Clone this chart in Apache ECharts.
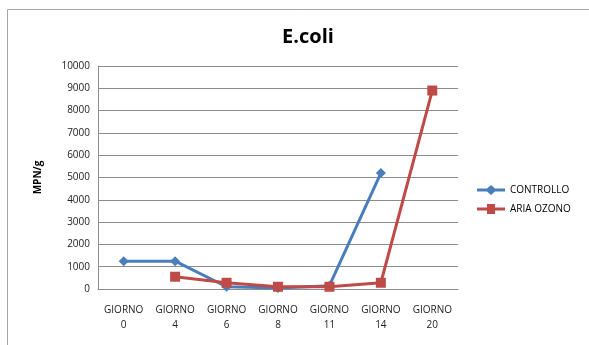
<!DOCTYPE html>
<html><head><meta charset="utf-8">
<script src="https://cdn.jsdelivr.net/npm/echarts@6/dist/echarts.min.js"></script>
<style>html,body{margin:0;padding:0;background:#fff}#c{width:589px;height:345px}</style>
</head><body><div id="c"></div>
<script>
const categories = ["GIORNO\n0","GIORNO\n4","GIORNO\n6","GIORNO\n8","GIORNO\n11","GIORNO\n14","GIORNO\n20"];
const controllo = [1250, 1250, 100, 50, 150, 5200, null];
const ariaOzono = [null, 550, 280, 100, 100, 280, 8900];
const yTicks = [0,1000,2000,3000,4000,5000,6000,7000,8000,9000,10000];

const chart = echarts.init(document.getElementById('c'));
chart.setOption({
  animation: false,
  graphic: [{type:'rect', shape:{x:7.5,y:9.5,width:590,height:345}, style:{fill:'none', stroke:'#a6a6a6', lineWidth:1}}],
  title: {text:'E.coli', left:303, top:22, textAlign:'center', textStyle:{fontFamily:'Open Sans', fontSize:20, fontWeight:'bold', color:'#000'}},
  grid: {left:98, top:66, width:360, height:223, containLabel:false},
  legend: {orient:'vertical', left:472, top:180, itemGap:9, itemWidth:28, itemHeight:10,
    textStyle:{fontFamily:'Open Sans', fontSize:10, color:'#000'},
    data:[{name:'CONTROLLO', icon:'path://M0,3.5 L10,3.5 L14,0 L18,3.5 L28,3.5 L28,6.5 L18,6.5 L14,10 L10,6.5 L0,6.5 Z'},
          {name:'ARIA OZONO', icon:'path://M0,3.5 L10,3.5 L10,0 L18,0 L18,3.5 L28,3.5 L28,6.5 L18,6.5 L18,10 L10,10 L10,6.5 L0,6.5 Z'}]},
  xAxis: {type:'category', data:categories, boundaryGap:true,
    axisLine:{lineStyle:{color:'#8c8c8c'}}, axisTick:{show:false},
    axisLabel:{fontFamily:'Open Sans', fontSize:10, color:'#222', margin:14, lineHeight:15}},
  yAxis: {type:'value', min:yTicks[0], max:yTicks[yTicks.length-1], interval:1000,
    name:'MPN/g', nameLocation:'middle', nameGap:55, nameRotate:90,
    nameTextStyle:{fontFamily:'Open Sans', fontSize:10, fontWeight:'bold', color:'#000'},
    axisLine:{show:true, lineStyle:{color:'#8c8c8c'}}, axisTick:{show:false},
    splitLine:{lineStyle:{color:'#8c8c8c'}},
    axisLabel:{fontFamily:'Open Sans', fontSize:10, color:'#222', margin:8, formatter: v => String(v)}},
  series: [
    {name:'CONTROLLO', type:'line', data:controllo, connectNulls:false, color:'#4a7ebb',
      lineStyle:{width:3}, symbol:'diamond', symbolSize:10, itemStyle:{color:'#4a7ebb'}},
    {name:'ARIA OZONO', type:'line', data:ariaOzono, color:'#be4b48',
      lineStyle:{width:3}, symbol:'rect', symbolSize:10, itemStyle:{color:'#be4b48'}}
  ]
});
</script></body></html>
